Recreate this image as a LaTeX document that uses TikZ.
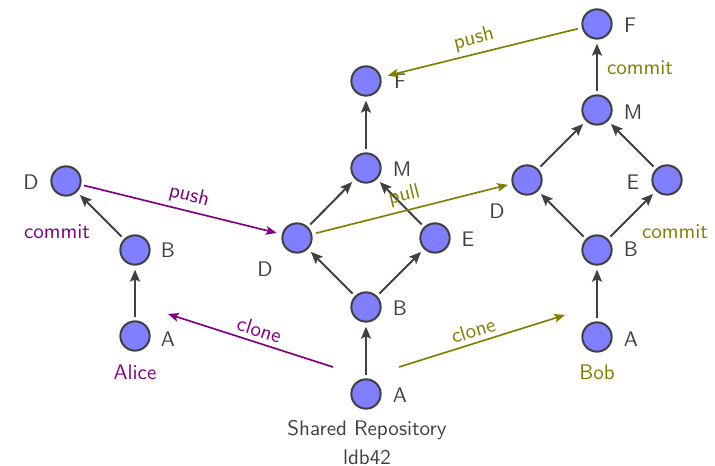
\documentclass[tikz,border=0pt]{standalone}
\usetikzlibrary{arrows.meta}
\definecolor{nodefill}{HTML}{7F7FFF}
\definecolor{edgegray}{HTML}{404040}
\definecolor{alicec}{HTML}{800080}
\definecolor{bobc}{HTML}{808000}
\font\diagfnt="[lmsans10-regular]" at 15.8pt
\newcommand\diagfont{\diagfnt}
\begin{document}
\begin{tikzpicture}[x=0.75pt,y=-0.75pt,
  commitnode/.style={circle,draw=edgegray,fill=nodefill,line width=1.5pt,minimum size=22pt,inner sep=0pt},
  lbl/.style={text=edgegray,font=\diagfont,inner sep=0pt},
  alicetxt/.style={text=alicec,font=\diagfont,inner sep=0pt},
  bobtxt/.style={text=bobc,font=\diagfont,inner sep=0pt},
  parent/.style={-{Stealth[length=9pt,width=7.5pt,inset=1.8pt]},draw=edgegray,line width=1.5pt,shorten <=2.5pt,shorten >=3pt},
  alicearrow/.style={-{Stealth[length=8pt,width=6.5pt,inset=1.6pt]},draw=alicec,line width=1.25pt},
  bobarrow/.style={-{Stealth[length=8pt,width=6.5pt,inset=1.6pt]},draw=bobc,line width=1.25pt},
  sl/.style={above,sloped,font=\diagfont,inner sep=3.5pt}]
\useasboundingbox (0,0) rectangle (715,466);
% Alice
\node[commitnode] (aA) at (135,336) {};
\node[commitnode] (aB) at (135,250) {};
\node[commitnode] (aD) at (66,181) {};
% Shared
\node[commitnode] (sA) at (366,394) {};
\node[commitnode] (sB) at (366,307) {};
\node[commitnode] (sD) at (297,238) {};
\node[commitnode] (sE) at (435,238) {};
\node[commitnode] (sM) at (366,168) {};
\node[commitnode] (sF) at (366,81) {};
% Bob
\node[commitnode] (bA) at (597,337) {};
\node[commitnode] (bB) at (597,250) {};
\node[commitnode] (bD) at (527,180) {};
\node[commitnode] (bE) at (667,180) {};
\node[commitnode] (bM) at (597,110) {};
\node[commitnode] (bF) at (597,24) {};
% labels
\node[lbl] (aAl) at (168,339) {A};
\node[lbl] (aBl) at (168,250) {B};
\node[lbl] (aDl) at (31,182) {D};
\node[alicetxt] (aci) at (57,232) {commit};
\node[alicetxt] (aname) at (135,372) {Alice};
\node[lbl] (sAl) at (400,395) {A};
\node[lbl] (sBl) at (400,308) {B};
\node[lbl] (sDl) at (265,269) {D};
\node[lbl] (sEl) at (468,239) {E};
\node[lbl] (sMl) at (402,169) {M};
\node[lbl] (sFl) at (400,81) {F};
\node[lbl] (sname) at (367,430) {Shared Repository};
\node[lbl] (sid) at (367,457) {ldb42};
\node[lbl] (bAl) at (631,339) {A};
\node[lbl] (bBl) at (631,249) {B};
\node[lbl] (bDl) at (497,211) {D};
\node[lbl] (bEl) at (633,182) {E};
\node[lbl] (bMl) at (633,112) {M};
\node[lbl] (bFl) at (630,25) {F};
\node[bobtxt] (bci1) at (640,68) {commit};
\node[bobtxt] (bci2) at (675,232) {commit};
\node[bobtxt] (bname) at (597,372) {Bob};
% parent edges
\draw[parent] (aA) -- (aB);
\draw[parent] (aB) -- (aD);
\draw[parent] (sA) -- (sB);
\draw[parent] (sB) -- (sD);
\draw[parent] (sB) -- (sE);
\draw[parent] (sD) -- (sM);
\draw[parent] (sE) -- (sM);
\draw[parent] (sM) -- (sF);
\draw[parent] (bA) -- (bB);
\draw[parent] (bB) -- (bD);
\draw[parent] (bB) -- (bE);
\draw[parent] (bD) -- (bM);
\draw[parent] (bE) -- (bM);
\draw[parent] (bM) -- (bF);
% clone arrows
\coordinate (acs) at (333,367);
\coordinate (ace) at (168,314);
\coordinate (bcs) at (399,367);
\coordinate (bce) at (565,315);
\draw[alicearrow] (acs) -- node[sl,text=alicec,pos=0.47] (acl) {clone} (ace);
\draw[bobarrow] (bcs) -- node[sl,text=bobc,pos=0.47] (bcl) {clone} (bce);
% push / pull
\draw[alicearrow,shorten <=2pt,shorten >=4pt] (aD) -- node[sl,text=alicec,pos=0.52] (apl) {push} (sD);
\draw[bobarrow,shorten <=3pt,shorten >=3pt] (sD) -- node[sl,text=bobc,pos=0.48] (pll) {pull} (bD);
\draw[bobarrow,shorten <=3pt,shorten >=5pt] (bF) -- node[sl,text=bobc,pos=0.52] (bpl) {push} (sF);
\end{tikzpicture}
\end{document}
